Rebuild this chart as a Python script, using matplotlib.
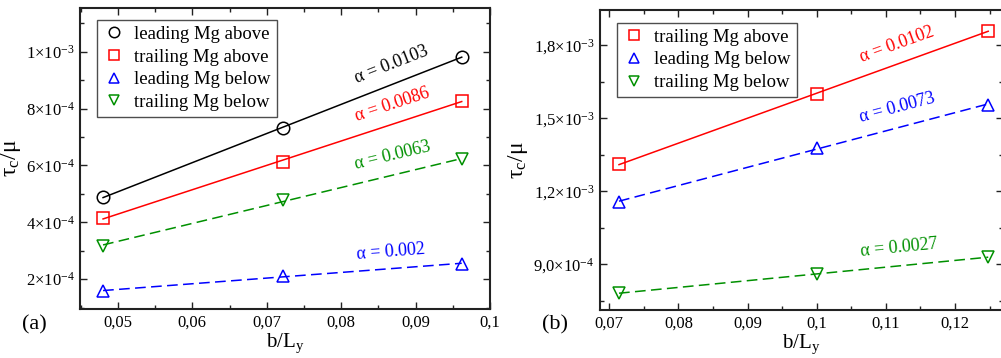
import numpy as np
import matplotlib
matplotlib.use('Agg')
import matplotlib.pyplot as plt
from matplotlib.ticker import FixedLocator, FixedFormatter, MultipleLocator
from matplotlib.lines import Line2D

plt.rcParams['font.family'] = ['Liberation Serif', 'DejaVu Serif']
plt.rcParams['mathtext.fontset'] = 'custom'
plt.rcParams['mathtext.rm'] = 'Liberation Serif'
plt.rcParams['mathtext.it'] = 'Liberation Serif:italic'

# ---- panel (a) data ----
xa = [0.048, 0.0722, 0.0962]
a_lead_above = [4.88e-4, 7.33e-4, 9.82e-4]
a_trail_above = [4.15e-4, 6.13e-4, 8.28e-4]
a_lead_below = [1.59e-4, 2.10e-4, 2.55e-4]
a_trail_below = [3.18e-4, 4.78e-4, 6.22e-4]
a_alpha = ['0.0103', '0.0086', '0.002', '0.0063']
a_xticks = [0.05, 0.06, 0.07, 0.08, 0.09, 0.1]
a_xticklabels = ['0,05', '0,06', '0,07', '0,08', '0,09', '0,1']
a_yticks = [2e-4, 4e-4, 6e-4, 8e-4, 1e-3]
a_yticklabels = [r'2×10$^{-4}$', r'4×10$^{-4}$', r'6×10$^{-4}$',
                 r'8×10$^{-4}$', r'1×10$^{-3}$']

# ---- panel (b) data ----
xb = [0.0714, 0.1, 0.1248]
b_trail_above = [1.311e-3, 1.598e-3, 1.859e-3]
b_lead_below = [1.156e-3, 1.379e-3, 1.555e-3]
b_trail_below = [7.81e-4, 8.60e-4, 9.29e-4]
b_alpha = ['0.0102', '0.0073', '0.0027']
b_xticks = [0.07, 0.08, 0.09, 0.1, 0.11, 0.12]
b_xticklabels = ['0,07', '0,08', '0,09', '0,1', '0,11', '0,12']
b_yticks = [9e-4, 1.2e-3, 1.5e-3, 1.8e-3]
b_yticklabels = [r'9,0×10$^{-4}$', r'1,2×10$^{-3}$', r'1,5×10$^{-3}$',
                 r'1,8×10$^{-3}$']

GREEN = '#009000'
fig = plt.figure(figsize=(10.01, 3.58), dpi=100)
axa = fig.add_axes([80/1001, 1-309/358, 410/1001, 301/358])
axb = fig.add_axes([600/1001, 1-310/358, 403/1001, 300/358])


def style(ax, xticks, xlabels, yticks, ylabels, xminor, yminor):
    ax.xaxis.set_major_locator(FixedLocator(xticks))
    ax.xaxis.set_major_formatter(FixedFormatter(xlabels))
    ax.yaxis.set_major_locator(FixedLocator(yticks))
    ax.yaxis.set_major_formatter(FixedFormatter(ylabels))
    ax.xaxis.set_minor_locator(MultipleLocator(xminor))
    ax.yaxis.set_minor_locator(MultipleLocator(yminor))
    ax.tick_params(which='both', direction='in', top=True, right=True,
                   labelsize=12, width=1.0, color='#222222')
    ax.tick_params(which='major', length=5, pad=4)
    ax.tick_params(which='minor', length=3)
    for s in ax.spines.values():
        s.set_linewidth(1.5)
        s.set_color('#222222')
    ax.set_xlabel(r'b/L$_\mathrm{y}$', fontsize=15, labelpad=1)
    ax.set_ylabel(r'τ$_\mathrm{c}$/μ', fontsize=17, labelpad=2)


def series(ax, x, y, color, marker, ls, alpha_txt, xt, off=8):
    k, c = np.polyfit(x, y, 1)
    xl = np.array([x[0], x[-1]])
    ax.plot(xl, k*xl + c, color=color, ls=ls, lw=1.1,
            dashes=(7, 3.5) if ls == '--' else (None, None))
    ax.plot(x, y, ls='none', marker=marker, ms=9, mfc='none', mec=color, mew=1.1)
    # rotate label along the line in display coordinates
    p0 = ax.transData.transform((x[0], k*x[0] + c))
    p1 = ax.transData.transform((x[-1], k*x[-1] + c))
    ang = np.degrees(np.arctan2(p1[1]-p0[1], p1[0]-p0[0]))
    ax.annotate(r'α = ' + alpha_txt, xy=(xt, k*xt + c), xytext=(0, off),
                textcoords='offset points', rotation=ang, rotation_mode='anchor',
                ha='center', va='bottom', color=color, fontsize=13)


# panel (a)
axa.set_xlim(0.0449, 0.1)
axa.set_ylim(0.95e-4, 1.154e-3)
style(axa, a_xticks, a_xticklabels, a_yticks, a_yticklabels, 0.005, 1e-4)
series(axa, xa, a_lead_above, 'black', 'o', '-', a_alpha[0], 0.0872)
series(axa, xa, a_trail_above, 'red', 's', '-', a_alpha[1], 0.0872)
series(axa, xa, a_lead_below, 'blue', '^', '--', a_alpha[2], 0.0868, off=6)
series(axa, xa, a_trail_below, GREEN, 'v', '--', a_alpha[3], 0.0872)
ha = [Line2D([], [], ls='none', marker=m, ms=7.5, mfc='none', mec=c, mew=1.1)
      for m, c in [('o', 'black'), ('s', 'red'), ('^', 'blue'), ('v', GREEN)]]
leg = axa.legend(ha, ['leading Mg above', 'trailing Mg above',
                      'leading Mg below', 'trailing Mg below'],
                 loc='upper left', bbox_to_anchor=(17/410, 1-12/301), fontsize=13.5,
                 frameon=True, fancybox=False, handlelength=1.2,
                 handletextpad=0.5, labelspacing=0.3, borderpad=0.3,
                 borderaxespad=0)
leg.get_frame().set_edgecolor('#222222')
leg.get_frame().set_linewidth(1.0)
fig.text(22/1001, 1-325/358, '(a)', fontsize=16, va='center', ha='left')

# panel (b)
axb.set_xlim(0.06865, 0.12694)
axb.set_ylim(7.12e-4, 1.944e-3)
style(axb, b_xticks, b_xticklabels, b_yticks, b_yticklabels, 0.005, 1.5e-4)
series(axb, xb, b_trail_above, 'red', 's', '-', b_alpha[0], 0.112)
series(axb, xb, b_lead_below, 'blue', '^', '--', b_alpha[1], 0.112)
series(axb, xb, b_trail_below, GREEN, 'v', '--', b_alpha[2], 0.112, off=7)
hb = [Line2D([], [], ls='none', marker=m, ms=7.5, mfc='none', mec=c, mew=1.1)
      for m, c in [('s', 'red'), ('^', 'blue'), ('v', GREEN)]]
leg = axb.legend(hb, ['trailing Mg above', 'leading Mg below', 'trailing Mg below'],
                 loc='upper left', bbox_to_anchor=(17/403, 1-13/300), fontsize=13.5,
                 frameon=True, fancybox=False, handlelength=1.2,
                 handletextpad=0.5, labelspacing=0.3, borderpad=0.3,
                 borderaxespad=0)
leg.get_frame().set_edgecolor('#222222')
leg.get_frame().set_linewidth(1.0)
fig.text(542/1001, 1-325/358, '(b)', fontsize=16, va='center', ha='left')

fig.savefig('out.png', dpi=100)
